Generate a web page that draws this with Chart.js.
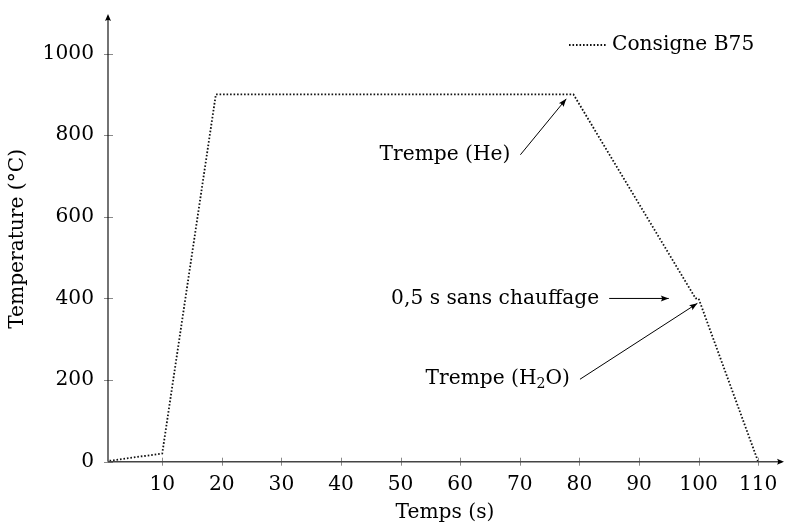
<!DOCTYPE html>
<html>
<head>
<meta charset="utf-8">
<script src="https://cdn.jsdelivr.net/npm/chart.js@4.4.1/dist/chart.umd.min.js"></script>
<style>
  html, body { margin: 0; padding: 0; background: #fff; }
  #wrap { width: 787px; height: 527px; position: relative; }
</style>
</head>
<body>
<div id="wrap"><canvas id="chart"></canvas></div>
<script>
// consigne de température B75
const temps = [0, 10, 19, 79, 99.5, 100, 110];
const consigne = [0, 20, 900, 900, 400, 400, 0];
const xTicks = [10, 20, 30, 40, 50, 60, 70, 80, 90, 100, 110];
const yTicks = [0, 200, 400, 600, 800, 1000];

const FONT = 'DejaVu Serif';
const FS = 20.2;

// flèches d'annotation (départ -> pointe), en coordonnées des axes
const notes = [
    { parts: [['Trempe (He)', 0]], from: [70.1, 752], to: [77.8, 889] },
    { parts: [['0,5 s sans chauffage', 0]], from: [85.0, 400], to: [95.0, 400] },
    { parts: [['Trempe (H', 0], ['2', 1], ['O)', 0]], from: [80.1, 202], to: [99.8, 388] }
];

function arrowHead(ctx, x1, y1, x2, y2, len, half) {
    let a = Math.atan2(y2 - y1, x2 - x1);
    ctx.save();
    ctx.translate(x2, y2);
    ctx.rotate(a);
    ctx.beginPath();
    ctx.moveTo(0, 0);
    ctx.lineTo(-len, -half);
    ctx.quadraticCurveTo(-len * 0.7, 0, -len, half);
    ctx.closePath();
    ctx.fill();
    ctx.restore();
}

const decor = {
    id: 'decor',
    afterDraw(chart) {
        let ctx = chart.ctx;
        let xs = chart.scales.x, ys = chart.scales.y;
        let area = chart.chartArea;
        let x0 = area.left, y0 = ys.getPixelForValue(0);

        ctx.save();
        // petits traits de graduation, à cheval sur les axes
        ctx.strokeStyle = '#8a8a8a';
        ctx.lineWidth = 1;
        xTicks.forEach(function (v) {
            let px = Math.round(xs.getPixelForValue(v)) + 0.5;
            ctx.beginPath();
            ctx.moveTo(px, y0 - 4);
            ctx.lineTo(px, y0 + 4);
            ctx.stroke();
        });
        yTicks.forEach(function (v) {
            let py = Math.round(ys.getPixelForValue(v)) + 0.5;
            ctx.beginPath();
            ctx.moveTo(x0 - 4, py);
            ctx.lineTo(x0 + 5, py);
            ctx.stroke();
        });

        // axes avec flèches
        ctx.fillStyle = '#000';
        ctx.strokeStyle = '#000';
        ctx.lineWidth = 1.1;
        ctx.beginPath();
        ctx.moveTo(x0, y0);
        ctx.lineTo(x0, area.top);
        ctx.stroke();
        ctx.strokeStyle = '#444';
        ctx.lineWidth = 1.4;
        ctx.beginPath();
        ctx.moveTo(x0, y0);
        ctx.lineTo(area.right, y0);
        ctx.stroke();
        arrowHead(ctx, x0, y0, x0, area.top - 2, 7, 3);
        arrowHead(ctx, x0, y0, area.right + 2, y0, 7, 3);

        // annotations
        ctx.strokeStyle = '#000';
        ctx.lineWidth = 1;
        ctx.textBaseline = 'middle';
        notes.forEach(function (n) {
            let fx = xs.getPixelForValue(n.from[0]), fy = ys.getPixelForValue(n.from[1]);
            let tx = xs.getPixelForValue(n.to[0]), ty = ys.getPixelForValue(n.to[1]);
            ctx.beginPath();
            ctx.moveTo(fx, fy);
            ctx.lineTo(tx, ty);
            ctx.stroke();
            arrowHead(ctx, fx, fy, tx, ty, 8, 3);

            let w = 0;
            n.parts.forEach(function (p) {
                ctx.font = (p[1] ? FS * 0.7 : FS) + 'px "' + FONT + '"';
                w += ctx.measureText(p[0]).width;
            });
            let cx = fx - 10 - w;
            ctx.textAlign = 'left';
            n.parts.forEach(function (p) {
                ctx.font = (p[1] ? FS * 0.7 : FS) + 'px "' + FONT + '"';
                ctx.fillText(p[0], cx, fy + (p[1] ? 5 : 0));
                cx += ctx.measureText(p[0]).width;
            });
        });

        // légende
        let ds = chart.data.datasets[0];
        let lx = area.right - 213, ly = area.top + 29;
        ctx.setLineDash(ds.borderDash);
        ctx.lineWidth = ds.borderWidth;
        ctx.strokeStyle = ds.borderColor;
        ctx.beginPath();
        ctx.moveTo(lx, ly);
        ctx.lineTo(lx + 38, ly);
        ctx.stroke();
        ctx.setLineDash([]);
        ctx.font = FS + 'px "' + FONT + '"';
        ctx.fillText(ds.label, lx + 43, ly);
        ctx.restore();
    }
};

new Chart(document.getElementById('chart'), {
    type: 'line',
    data: {
        datasets: [{
            label: 'Consigne B75',
            data: temps.map(function (t, i) { return { x: t, y: consigne[i] }; }),
            borderColor: '#111',
            borderWidth: 1.8,
            borderDash: [1.6, 1.9],
            pointRadius: 0,
            tension: 0,
            fill: false
        }]
    },
    options: {
        responsive: true,
        maintainAspectRatio: false,
        animation: false,
        layout: { padding: { top: 16, right: 5, left: 0, bottom: 0 } },
        plugins: { legend: { display: false }, tooltip: { enabled: false } },
        scales: {
            x: {
                type: 'linear',
                min: 0.9,
                max: 114,
                border: { display: false },
                grid: { display: false, drawTicks: false },
                afterBuildTicks: function (s) { s.ticks = xTicks.map(function (v) { return { value: v }; }); },
                afterFit: function (s) { s.height = 65.3; s.paddingLeft = 0; s.paddingRight = 0; },
                ticks: {
                    color: '#000', padding: 11, maxRotation: 0, font: { family: FONT, size: FS },
                    callback: function (v) { return String(v); }
                },
                title: { display: true, text: 'Temps (s)', color: '#000', padding: { top: 0, bottom: 2 }, font: { family: FONT, size: FS } }
            },
            y: {
                min: 0,
                max: 1092,
                border: { display: false },
                grid: { display: false, drawTicks: false },
                afterBuildTicks: function (s) { s.ticks = yTicks.map(function (v) { return { value: v }; }); },
                afterFit: function (s) { s.width = 108; s.paddingTop = 0; s.paddingBottom = 0; },
                ticks: {
                    color: '#000', padding: 14, font: { family: FONT, size: FS },
                    callback: function (v) { return String(v); }
                },
                title: { display: true, text: 'Temperature (°C)', color: '#000', padding: { top: 6, bottom: 0 }, font: { family: FONT, size: FS } }
            }
        }
    },
    plugins: [decor]
});
</script>
</body>
</html>
